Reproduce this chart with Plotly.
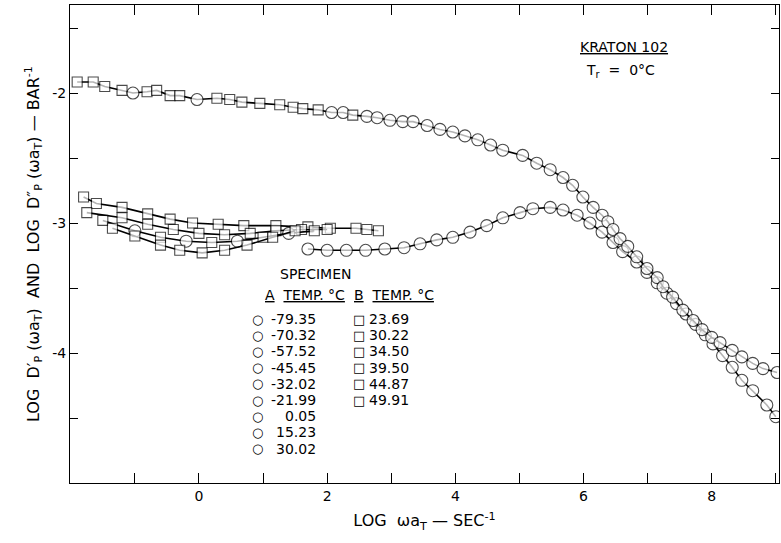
import plotly.graph_objects as go

# ---- storage compliance  LOG D'p (upper curve) ----
dp_x = [-1.90, -1.65, -1.47, -1.20, -1.03, -0.81, -0.66, -0.45, -0.30, -0.03,
        0.28, 0.48, 0.67, 0.95, 1.26, 1.47, 1.62, 1.86, 2.07, 2.25,
        2.40, 2.62, 2.78, 2.98, 3.18, 3.34, 3.56, 3.76, 3.96, 4.15,
        4.35, 4.55, 4.74, 5.05, 5.27, 5.48, 5.68, 5.83, 5.99, 6.15,
        6.29, 6.38, 6.46, 6.57, 6.69, 6.83, 6.99, 7.15, 7.24, 7.39,
        7.55, 7.71, 7.85, 8.00, 8.13, 8.32, 8.47, 8.64, 8.80, 9.02]
dp_y = [-1.915, -1.915, -1.95, -1.98, -2.00, -1.99, -1.98, -2.02, -2.02, -2.05,
        -2.04, -2.05, -2.07, -2.08, -2.09, -2.11, -2.12, -2.13, -2.15, -2.15,
        -2.17, -2.18, -2.19, -2.21, -2.22, -2.22, -2.25, -2.28, -2.30, -2.33,
        -2.36, -2.40, -2.44, -2.48, -2.54, -2.59, -2.65, -2.71, -2.80, -2.88,
        -2.94, -2.99, -3.05, -3.12, -3.18, -3.26, -3.35, -3.42, -3.49, -3.57,
        -3.67, -3.75, -3.82, -3.88, -3.92, -3.98, -4.03, -4.08, -4.12, -4.15]
dp_sym = ["s", "s", "s", "s", "c", "s", "s", "s", "s", "c",
          "s", "s", "s", "s", "s", "s", "s", "s", "c", "c",
          "s", "c", "c", "c", "c", "c", "c", "c", "c", "c",
          "c", "c", "c", "c", "c", "c", "c", "c", "c", "c",
          "c", "c", "c", "c", "c", "c", "c", "c", "c", "c",
          "c", "c", "c", "c", "c", "c", "c", "c", "c", "c"]

# ---- loss compliance LOG D''p, low-frequency specimen branches ----
dpp1_x = [-1.80, -1.60, -1.20, -0.80, -0.45, -0.10, 0.30, 0.70, 1.20, 1.70, 2.05, 2.45, 2.62, 2.80]
dpp1_y = [-2.80, -2.85, -2.88, -2.93, -2.97, -3.00, -3.01, -3.02, -3.02, -3.03, -3.04, -3.04, -3.05, -3.06]
dpp2_x = [-1.75, -1.20, -0.80, -0.40, 0.00, 0.40, 0.80, 1.20, 1.60, 2.00]
dpp2_y = [-2.92, -2.96, -3.01, -3.05, -3.08, -3.09, -3.08, -3.06, -3.05, -3.05]
dpp3_x = [-1.50, -1.00, -0.60, -0.20, 0.20, 0.60, 1.00, 1.40, 1.80]
dpp3_y = [-2.98, -3.06, -3.11, -3.14, -3.15, -3.14, -3.11, -3.08, -3.06]
dpp4_x = [-1.35, -1.00, -0.60, -0.30, 0.05, 0.40, 0.75, 1.15, 1.50]
dpp4_y = [-3.04, -3.10, -3.17, -3.21, -3.23, -3.21, -3.17, -3.11, -3.06]

# ---- loss compliance LOG D''p, master curve ----
dpp_x = [1.70, 2.00, 2.30, 2.60, 2.90, 3.20, 3.45, 3.71, 3.96, 4.23,
         4.49, 4.74, 5.01, 5.21, 5.48, 5.68, 5.90, 6.10, 6.29, 6.46,
         6.61, 6.83, 6.99, 7.15, 7.30, 7.45, 7.60, 7.75, 7.90, 8.02,
         8.17, 8.32, 8.47, 8.64, 8.86, 9.00]
dpp_y = [-3.20, -3.21, -3.21, -3.21, -3.20, -3.19, -3.16, -3.13, -3.11, -3.07,
         -3.02, -2.96, -2.92, -2.89, -2.88, -2.90, -2.94, -3.00, -3.07, -3.15,
         -3.22, -3.30, -3.38, -3.46, -3.54, -3.62, -3.70, -3.78, -3.86, -3.93,
         -4.02, -4.11, -4.21, -4.29, -4.40, -4.49]

# ---- tick labels and legend text ----
x_ticks = [-1, 0, 1, 2, 3, 4, 5, 6, 7, 8, 9]
x_labels = ["", "0", "", "2", "", "4", "", "6", "", "8", ""]
y_ticks = [-1.5, -2, -2.5, -3, -3.5, -4, -4.5, -5]
y_labels = ["", "-2", "", "-3", "", "-4", "", ""]
temps_A = ["-79.35", "-70.32", "-57.52", "-45.45", "-32.02", "-21.99", "0.05", "15.23", "30.02"]
temps_B = ["23.69", "30.22", "34.50", "39.50", "44.87", "49.91"]

FONT = "DejaVu Sans"
W, H = 781, 543
L, R, T, B = 70, 2, 5, 60

SYM = {"c": "circle", "s": "square"}
SIZE = {"c": 12, "s": 10}

fig = go.Figure()


def add_curve(xs, ys, syms):
    fig.add_trace(go.Scatter(
        x=xs, y=ys, mode="lines+markers",
        line=dict(color="black", width=1.6),
        marker=dict(symbol=[SYM[s] for s in syms], size=[SIZE[s] for s in syms],
                    color="white", line=dict(color="black", width=1.1)),
        showlegend=False, hoverinfo="skip"))


add_curve(dpp1_x, dpp1_y, ["s"] * len(dpp1_x))
add_curve(dpp2_x, dpp2_y, ["s"] * len(dpp2_x))
add_curve(dpp3_x, dpp3_y, ["s", "c", "s", "c", "s", "c", "s", "c", "s"])
add_curve(dpp4_x, dpp4_y, ["s"] * len(dpp4_x))
add_curve(dpp_x, dpp_y, ["c"] * len(dpp_x))
add_curve(dp_x, dp_y, dp_sym)

# ---- annotations (pixel helpers -> paper coordinates) ----
pw, ph = W - L - R, H - T - B


def px(xp):
    return (xp - L) / pw


def py(yp):
    return (H - B - yp) / ph


ann = []


def text(x, y, s, size=14, anchor="center"):
    ann.append(dict(x=px(x), y=py(y), xref="paper", yref="paper", text=s, showarrow=False,
                    xanchor=anchor, yanchor="middle",
                    font=dict(family=FONT, size=size, color="black")))


text(624, 47, "<u>KRATON 102</u>", 14)
text(620, 71, "T<sub>r</sub>  =  0°C", 14)
text(315, 274, "SPECIMEN", 14)
text(263, 295, "<u>A</u>  <u>TEMP. °C</u>", 14, "left")
text(352, 295, "<u>B</u>  <u>TEMP. °C</u>", 14, "left")
for i, t in enumerate(temps_A):
    yy = 319 + 16.2 * i
    text(257, yy, "○", 13)
    text(318, yy, t, 14, "right")
for i, t in enumerate(temps_B):
    yy = 319 + 16.2 * i
    text(359, yy, "□", 13)
    text(367, yy, t, 14, "left")

fig.update_layout(
    width=W, height=H,
    margin=dict(l=L, r=R, t=T, b=B),
    paper_bgcolor="white", plot_bgcolor="white",
    font=dict(family=FONT, size=14, color="black"),
    annotations=ann,
    xaxis=dict(range=[-2.012, 9.05], tickvals=x_ticks, ticktext=x_labels,
               ticks="inside", ticklen=10, tickwidth=1, tickcolor="black",
               showline=True, linecolor="black", linewidth=1, mirror="ticks",
               showgrid=False, zeroline=False,
               tickfont=dict(family=FONT, size=14),
               title=dict(text="LOG  ωa<sub>T</sub> — SEC<sup>-1</sup>",
                          font=dict(family=FONT, size=16), standoff=12)),
    yaxis=dict(range=[-5.0, -1.323], tickvals=y_ticks, ticktext=y_labels,
               ticks="inside", ticklen=8, tickwidth=1, tickcolor="black",
               showline=True, linecolor="black", linewidth=1, mirror="ticks",
               showgrid=False, zeroline=False,
               tickfont=dict(family=FONT, size=14),
               title=dict(text="LOG  D′<sub>P</sub> (ωa<sub>T</sub>)  AND  LOG  D″<sub>P</sub> (ωa<sub>T</sub>) — BAR<sup>-1</sup>",
                          font=dict(family=FONT, size=16), standoff=8)),
)

fig.write_html("out.html")
